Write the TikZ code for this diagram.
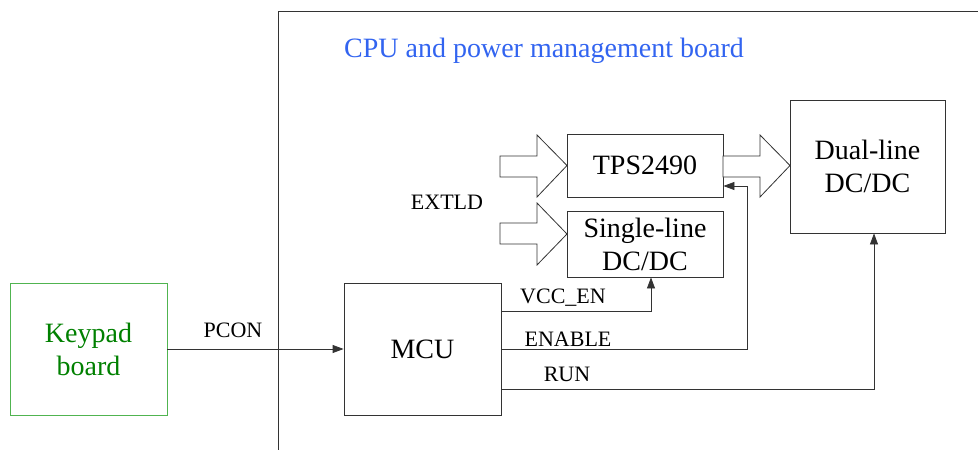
\documentclass[tikz,border=0pt]{standalone}
\usepackage{fontspec}
\setmainfont{Liberation Serif}
\usetikzlibrary{arrows.meta}
\definecolor{kgreen}{RGB}{0,128,0}
\definecolor{kgreenline}{RGB}{80,180,80}
\definecolor{tblue}{RGB}{50,100,240}
\tikzset{
  blk/.style={draw=black!80, line width=0.8pt, inner sep=0pt, font=\fontsize{28}{33}\selectfont, align=center},
  lbl/.style={font=\fontsize{22}{26}\selectfont, inner sep=0pt},
  sig/.style={draw=black!80, line width=0.8pt, -{Triangle[length=11pt,width=8pt]}},
  fat/.style={draw=black!80, line width=0.8pt, fill=white}
}
\begin{document}
\begin{tikzpicture}[x=1pt,y=-1pt]
\useasboundingbox (0,0) rectangle (978,450);
% board outline
\coordinate (bBL) at (278,450);
\coordinate (bTL) at (278,11);
\coordinate (bTR) at (978,11);
\draw[black!80, line width=0.8pt] (bBL) -- (bTL) -- (bTR);
\node[font=\fontsize{28}{32}\selectfont, text=tblue] (title) at (544,51) {CPU and power management board};

% boxes
\node[blk, draw=kgreenline, text=kgreen, minimum width=157pt, minimum height=132pt] (key) at (88.5,349) {Keypad\\board};
\node[blk, minimum width=157pt, minimum height=132pt] (mcu) at (422.5,349) {MCU};
\node[blk, minimum width=156pt, minimum height=63pt] (tps) at (645,165.5) {TPS2490};
\node[blk, minimum width=156pt, minimum height=66pt] (sdc) at (645,244) {Single-line\\DC/DC};
\node[blk, minimum width=155pt, minimum height=133pt] (ddc) at (867.5,166.5) {Dual-line\\DC/DC};

% hollow arrows
\draw[fat] (500,156) -- (537,156) -- (537,135) -- (567,165.5) -- (537,197) -- (537,177) -- (500,177) -- cycle;
\draw[fat] (500,223) -- (537,223) -- (537,203) -- (567,234) -- (537,265) -- (537,244) -- (500,244) -- cycle;
\draw[fat] (723,156) -- (760,156) -- (760,135) -- (790,165.5) -- (760,197) -- (760,177) -- (723,177) -- cycle;

\node[lbl] (extld) at (447,202) {EXTLD};

% signals
\draw[sig] (key.east) -- (mcu.west);
\node[lbl] (pcon) at (233,330) {PCON};

\coordinate (vccA) at (mcu.east |- 0,311);
\coordinate (vccB) at (651,311);
\draw[sig] (vccA) -- (vccB) -- (sdc.south -| vccB);
\node[lbl] (vcclbl) at (563,298) {VCC\_EN};

\coordinate (enB) at (747,349);
\coordinate (enC) at (747,186);
\draw[sig] (mcu.east) -- (enB) -- (enC) -- (tps.east |- enC);
\node[lbl] (enlbl) at (568,339) {ENABLE};

\coordinate (runA) at (mcu.east |- 0,389);
\coordinate (runB) at (874,389);
\draw[sig] (runA) -- (runB) -- (ddc.south -| runB);
\node[lbl] (runlbl) at (567,374) {RUN};
\end{tikzpicture}
\end{document}
